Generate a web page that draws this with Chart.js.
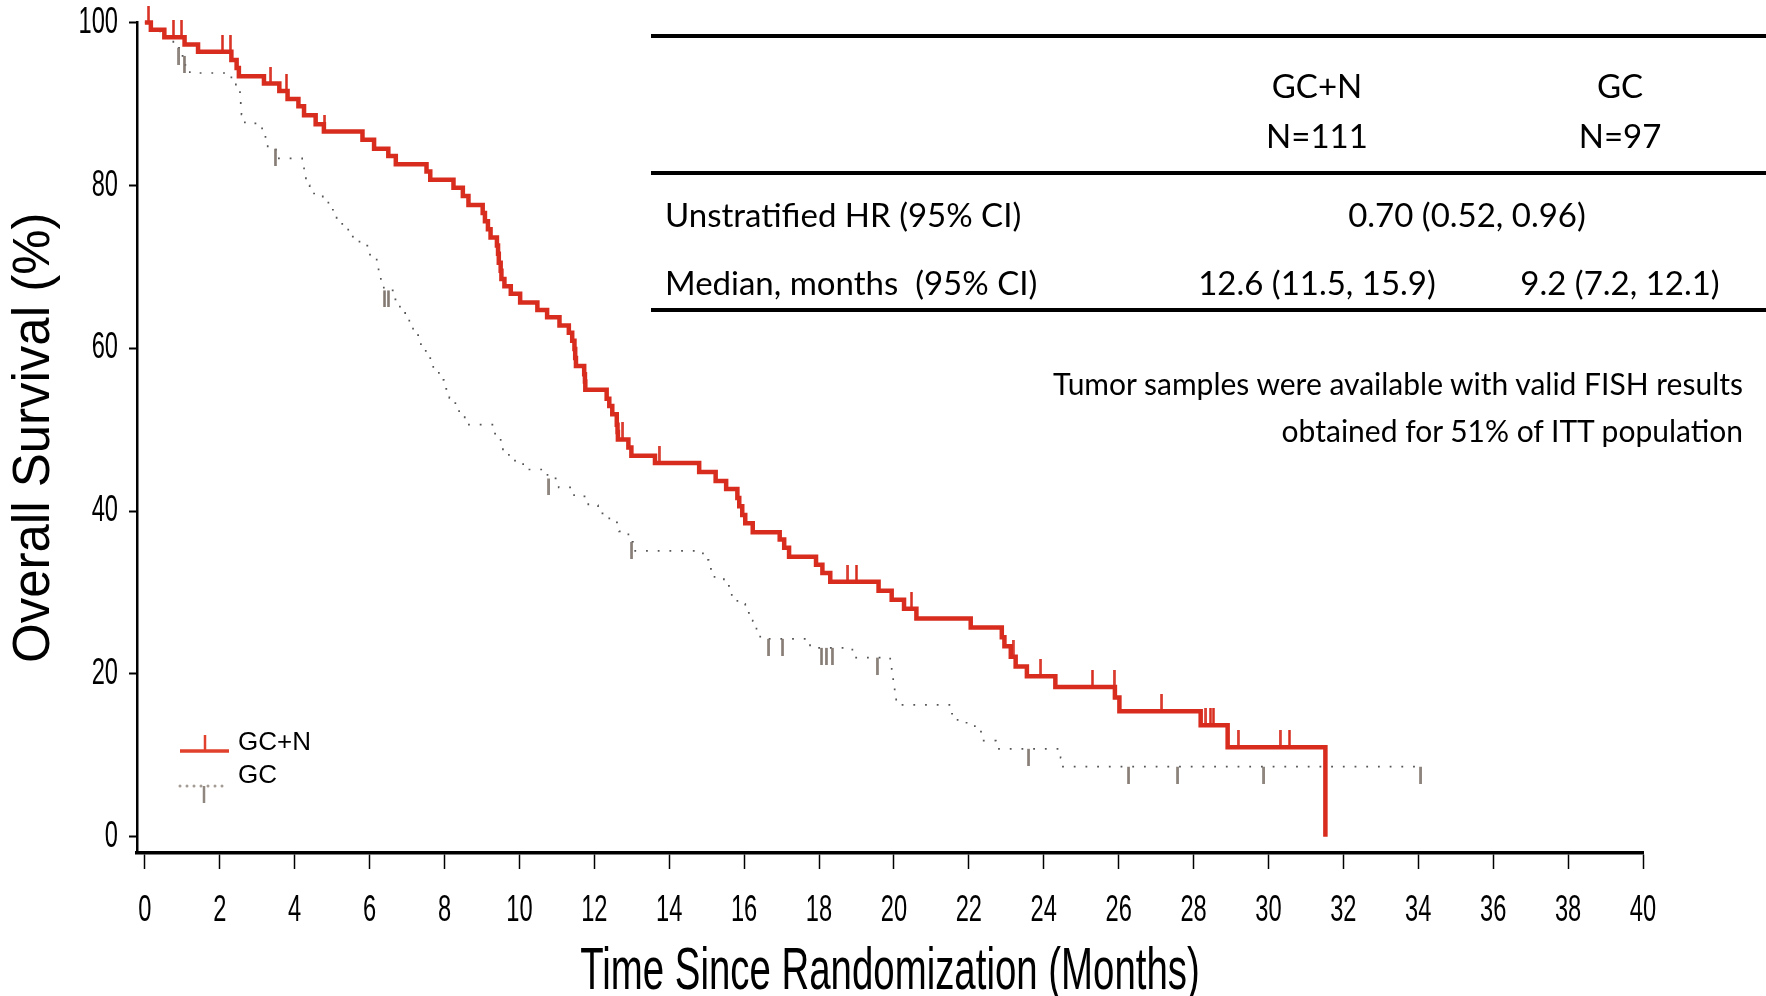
<!DOCTYPE html>
<html>
<head>
<meta charset="utf-8">
<title>Overall Survival</title>
<script src="https://cdn.jsdelivr.net/npm/chart.js@4.4.0/dist/chart.umd.min.js"></script>
<style>
  html, body { margin: 0; padding: 0; background: #fff; }
  #wrap { position: relative; width: 1766px; height: 996px; overflow: hidden; background: #fff; }
  #c { position: absolute; left: 0; top: 0; }
  .rule { position: absolute; left: 651px; width: 1115px; height: 4px; background: #000; }
  .t { position: absolute; font-family: Lato, 'Open Sans', sans-serif; color: #000; white-space: pre;
       line-height: 1; font-size: 33px; transform: translate(-50%, -50%); }
  .t.left { transform: translate(0, -50%); }
  .t.right { transform: translate(-100%, -50%); }
  .t.note { font-size: 30px; }
</style>
</head>
<body>
<div id="wrap">
  <canvas id="c" width="1766" height="996"></canvas>
</div>
<script>
// ---- series ----
const seriesNames = ['GC+N', 'GC'];

// Kaplan-Meier steps for GC+N: time of each event (months) and survival (%) after it
const gcnTimes = [0, 0.16, 0.52, 1.06, 1.42, 2.31, 2.45, 2.51, 3.18, 3.59, 3.81, 4.10, 4.25, 4.56, 4.78,
  5.81, 6.12, 6.50, 6.70, 7.52, 7.62, 8.24, 8.49, 8.64, 9.02, 9.08, 9.16, 9.23, 9.40, 9.43, 9.45, 9.50,
  9.52, 9.60, 9.77, 10.02, 10.48, 10.74, 11.07, 11.32, 11.41, 11.47, 11.49, 11.51, 11.73, 11.75, 11.76,
  12.33, 12.40, 12.48, 12.60, 12.62, 12.63, 12.91, 12.99, 13.62, 14.80, 15.24, 15.52, 15.82, 15.87,
  15.95, 16.03, 16.23, 16.95, 17.07, 17.20, 17.92, 18.09, 18.30, 19.59, 19.94, 20.27, 20.60, 22.05,
  22.88, 22.95, 23.12, 23.25, 23.55, 24.31, 25.90, 26.02, 28.19, 28.91, 31.52];
const gcnSurv = [100, 99.1, 98.2, 97.3, 96.4, 95.4, 94.4, 93.4, 92.5, 91.6, 90.6, 89.7, 88.6, 87.5, 86.6,
  85.6, 84.5, 83.6, 82.6, 81.7, 80.7, 79.7, 78.7, 77.6, 76.6, 75.6, 74.6, 73.6, 72.6, 71.6, 70.5, 69.5,
  68.5, 67.6, 66.7, 65.6, 64.7, 63.8, 62.8, 61.9, 60.9, 59.9, 58.8, 57.8, 56.8, 55.9, 54.9,
  53.8, 52.9, 51.9, 50.6, 49.7, 48.8, 47.8, 46.8, 45.9, 44.8, 43.7, 42.7, 41.6, 40.6,
  39.5, 38.5, 37.4, 36.5, 35.5, 34.4, 33.4, 32.4, 31.3, 30.2, 29.1, 28.0, 26.8, 25.7,
  24.5, 23.4, 22.1, 20.9, 19.7, 18.4, 17.1, 15.4, 13.7, 11.0, 0];
const gcnCensorTimes = [0.10, 0.76, 0.98, 2.07, 2.28, 3.36, 3.78, 4.80, 12.76, 13.73, 18.77, 19.00,
  20.47, 23.18, 23.92, 25.30, 25.88, 27.15, 28.33, 28.45, 28.53, 29.19, 30.31, 30.56];

// Kaplan-Meier steps for GC
const gcTimes = [0, 0.18, 0.55, 0.76, 0.98, 1.07, 1.20, 2.31, 2.43, 2.54, 2.56, 2.58, 2.67, 3.13, 3.22,
  3.28, 3.50, 4.20, 4.25, 4.30, 4.40, 4.75, 4.90, 5.12, 5.27, 5.43, 5.73, 5.94, 6.19, 6.24, 6.30, 6.38,
  6.65, 6.81, 6.95, 7.06, 7.16, 7.37, 7.50, 7.62, 7.70, 7.85, 7.98, 8.13, 8.29, 8.39, 8.54, 9.31, 9.50,
  9.56, 9.72, 10.10, 10.75, 11.05, 11.46, 11.84, 12.10, 12.40, 12.66, 12.91, 13.03, 14.90, 15.05, 15.21,
  15.46, 15.67, 15.82, 16.03, 16.23, 16.33, 16.43, 17.76, 18.89, 19.90, 19.94, 19.98, 20.02, 20.06,
  21.55, 21.70, 22.16, 22.37, 22.72, 24.45, 24.47, 34.07];
const gcSurv = [100, 98.9, 97.9, 96.9, 95.9, 94.8, 93.8, 92.8, 91.8, 90.7, 89.7, 88.7, 87.6, 86.6, 85.5,
  84.5, 83.3, 82.1, 81.0, 80.0, 79.0, 78.0, 77.0, 75.9, 74.8, 73.7, 72.6, 71.5, 70.4, 69.2, 68.1, 67.1,
  66.0, 64.9, 63.8, 62.7, 61.6, 60.5, 59.4, 58.3, 57.2, 56.1, 55.0, 53.9, 52.8, 51.7, 50.6, 49.5, 48.4,
  47.3, 46.2, 45.1, 44.0, 42.9, 41.8, 40.7, 39.7, 38.6, 37.5, 36.2, 35.1, 34.0, 32.9, 31.9,
  30.8, 29.7, 28.6, 27.5, 26.5, 25.4, 24.3, 23.2, 22.0, 20.9, 19.8, 18.7, 17.5, 16.2,
  15.1, 14.0, 12.9, 11.8, 10.8, 9.7, 8.6, 8.6];
const gcCensorTimes = [0.91, 1.05, 3.48, 6.40, 6.50, 10.79, 13.00, 16.66, 17.03, 18.07, 18.19, 18.35,
  19.55, 23.60, 26.27, 27.58, 29.88, 34.07];

// ---- axes ----
const xTickValues = [0, 2, 4, 6, 8, 10, 12, 14, 16, 18, 20, 22, 24, 26, 28, 30, 32, 34, 36, 38, 40];
const yTickValues = [0, 20, 40, 60, 80, 100];
const xTitle = 'Time Since Randomization (Months)';
const yTitle = 'Overall Survival (%)';

// ---- summary table ----
const tableHeads = ['GC+N', 'GC'];
const tableCounts = ['N=111', 'N=97'];
const hrLabel = 'Unstratified HR (95% CI)';
const hrValue = '0.70 (0.52, 0.96)';
const medianLabel = 'Median, months  (95% CI)';
const medianValues = ['12.6 (11.5, 15.9)', '9.2 (7.2, 12.1)'];
const noteLines = ['Tumor samples were available with valid FISH results', 'obtained for 51% of ITT population'];

// ---- table overlay ----
const wrap = document.getElementById('wrap');
function addText(txt, x, y, cls) {
  const d = document.createElement('div');
  d.className = 't' + (cls ? ' ' + cls : '');
  d.textContent = txt;
  d.style.left = x + 'px';
  d.style.top = y + 'px';
  wrap.appendChild(d);
}
[34, 171, 308].forEach(y => {
  const r = document.createElement('div');
  r.className = 'rule';
  r.style.top = y + 'px';
  wrap.appendChild(r);
});
const colX = [1317, 1620];
tableHeads.forEach((h, i) => addText(h, colX[i], 85));
tableCounts.forEach((h, i) => addText(h, colX[i], 135));
addText(hrLabel, 665, 214, 'left');
addText(hrValue, 1467, 214);
addText(medianLabel, 665, 282, 'left');
medianValues.forEach((v, i) => addText(v, colX[i], 282));
noteLines.forEach((v, i) => addText(v, 1743, 383 + i * 47, 'right note'));

// ---- chart ----
const RED = '#d82c1f';
const GREY_LINE = '#555555';
const GREY_TICK = '#7f756d';

function toPoints(times, surv) { return times.map((t, i) => ({ x: t, y: surv[i] })); }
function survAt(times, surv, t) {
  let v = surv[0];
  for (let i = 0; i < times.length; i++) { if (times[i] <= t) v = surv[i]; else break; }
  return v;
}
function censorPoints(ct, times, surv) { return ct.map(t => ({ x: t, y: survAt(times, surv, t) })); }

// censoring marks: a short vertical stroke above (GC+N) or below (GC) the curve
function tickImage(color, up) {
  const c = document.createElement('canvas');
  c.width = 3; c.height = 34;
  const g = c.getContext('2d');
  g.fillStyle = color;
  if (up) g.fillRect(0.25, 0, 2.5, 17); else g.fillRect(0.25, 17, 2.5, 17);
  return c;
}
const redTick = tickImage(RED, true);
const greyTick = tickImage(GREY_TICK, false);

// Arial Narrow is not installed: text set in it is drawn with Liberation Sans squeezed horizontally
const narrow = "'Arial Narrow', 'Liberation Sans', Arial, sans-serif";
const sans = "'Liberation Sans', Arial, sans-serif";
const NARROW_SCALE = 0.64;

const canvas = document.getElementById('c');
const ctx2d = canvas.getContext('2d');
const baseFillText = ctx2d.fillText;
ctx2d.fillText = function (text, x, y, maxWidth) {
  if (/Narrow/.test(this.font)) {
    this.save();
    this.translate(x, y);
    this.scale(NARROW_SCALE, 1);
    if (maxWidth === undefined) baseFillText.call(this, text, 0, 0);
    else baseFillText.call(this, text, 0, 0, maxWidth / NARROW_SCALE);
    this.restore();
  } else if (maxWidth === undefined) {
    baseFillText.call(this, text, x, y);
  } else {
    baseFillText.call(this, text, x, y, maxWidth);
  }
};

const legendPlugin = {
  id: 'kmLegend',
  afterDraw(chart) {
    const ctx = chart.ctx;
    const ds = chart.data.datasets;
    ctx.save();
    // GC+N sample
    ctx.strokeStyle = '#e0402c';
    ctx.lineWidth = 3.5;
    ctx.beginPath(); ctx.moveTo(180, 751); ctx.lineTo(229, 751); ctx.stroke();
    ctx.lineWidth = 2.5;
    ctx.beginPath(); ctx.moveTo(205, 751); ctx.lineTo(205, 735); ctx.stroke();
    // GC sample
    ctx.fillStyle = '#a39b94';
    for (let x = 180; x <= 222; x += 7) { ctx.beginPath(); ctx.arc(x, 786, 1.5, 0, Math.PI * 2); ctx.fill(); }
    ctx.strokeStyle = '#8f867f';
    ctx.lineWidth = 2.5;
    ctx.beginPath(); ctx.moveTo(204, 786); ctx.lineTo(204, 803); ctx.stroke();
    // labels
    ctx.fillStyle = '#000';
    ctx.font = '26px ' + sans;
    ctx.textAlign = 'left';
    ctx.textBaseline = 'middle';
    ctx.fillText(ds[0].label, 238, 743);
    ctx.fillText(ds[1].label, 238, 776);
    ctx.restore();
  }
};

new Chart(canvas, {
  type: 'line',
  data: {
    datasets: [
      { label: seriesNames[0], data: toPoints(gcnTimes, gcnSurv), stepped: true, borderColor: RED,
        borderWidth: 4.5, pointRadius: 0, fill: false, clip: false, order: 1 },
      { label: seriesNames[1], data: toPoints(gcTimes, gcSurv), stepped: true, borderColor: GREY_LINE,
        borderWidth: 1.7, borderDash: [1.8, 9.9], pointRadius: 0, fill: false, clip: false, order: 4 },
      { label: seriesNames[0] + ' censored', type: 'scatter', data: censorPoints(gcnCensorTimes, gcnTimes, gcnSurv),
        pointStyle: redTick, pointRadius: 3, showLine: false, clip: false, order: 0 },
      { label: seriesNames[1] + ' censored', type: 'scatter', data: censorPoints(gcCensorTimes, gcTimes, gcSurv),
        pointStyle: greyTick, pointRadius: 3, showLine: false, clip: false, order: 3 }
    ]
  },
  options: {
    responsive: false,
    animation: false,
    events: [],
    devicePixelRatio: 1,
    layout: { padding: { left: 0, right: 123, top: 22.5, bottom: 0 } },
    plugins: { legend: { display: false }, tooltip: { enabled: false } },
    scales: {
      x: {
        type: 'linear', position: 'bottom', min: -0.21, max: 40,
        afterBuildTicks: axis => { axis.ticks = xTickValues.map(v => ({ value: v })); },
        afterFit: axis => { axis.height = 143; },
        border: { display: true, color: '#000', width: 3.5 },
        grid: { display: true, drawOnChartArea: false, drawTicks: true, tickLength: 16, tickWidth: 1.5, tickColor: '#000' },
        ticks: { color: '#000', padding: 20, maxRotation: 0, autoSkip: false,
                 font: { family: narrow, size: 37 }, callback: v => String(v) },
        title: { display: true, text: xTitle, color: '#000', padding: { top: 0, bottom: -6 },
                 font: { family: narrow, size: 60, lineHeight: 1 } }
      },
      y: {
        type: 'linear', min: -2, max: 100,
        afterBuildTicks: axis => { axis.ticks = yTickValues.map(v => ({ value: v })); },
        afterFit: axis => { axis.width = 137; },
        border: { display: true, color: '#000', width: 2.5 },
        grid: { display: true, drawOnChartArea: false, drawTicks: true, tickLength: 8, tickWidth: 2, tickColor: '#000' },
        ticks: { color: '#000', padding: 11, autoSkip: false, font: { family: narrow, size: 37, lineHeight: 0.4 },
                 callback: v => String(v) },
        title: { display: true, text: yTitle, color: '#000', padding: { top: 9, bottom: 0 },
                 font: { family: sans, size: 51, lineHeight: 1 } }
      }
    }
  },
  plugins: [legendPlugin]
});
</script>
</body>
</html>
